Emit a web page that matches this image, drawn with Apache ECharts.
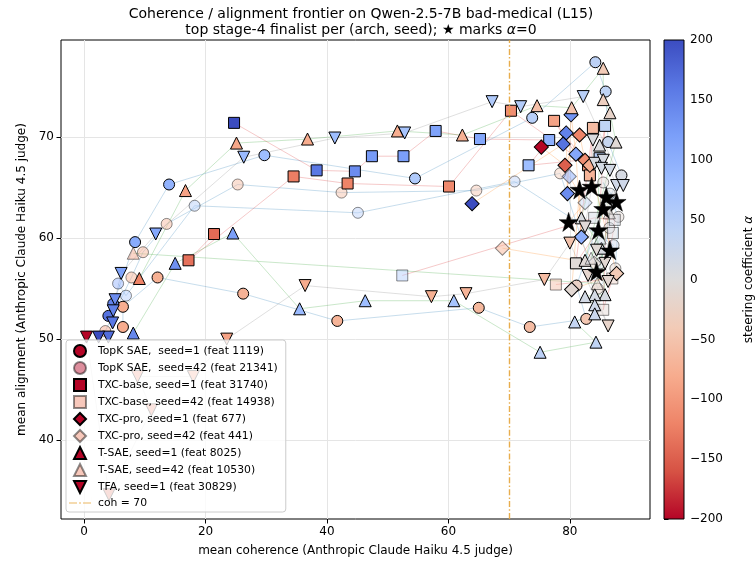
<!DOCTYPE html>
<html>
<head>
<meta charset="utf-8">
<script src="https://cdn.jsdelivr.net/npm/echarts@6/dist/echarts.min.js"></script>
<style>
  html, body { margin: 0; padding: 0; background: #fff; }
  #chart { width: 756px; height: 567px; }
</style>
</head>
<body>
<div id="chart"></div>
<script>
// Each point: [mean coherence, mean alignment, steering coefficient alpha]
const TOPK_S1 = [
  [6.4, 51.2, -80], [6.4, 53.2, -78], [12.1, 56.1, -75], [26.2, 54.5, -72], [41.7, 51.8, -70],
  [65.0, 53.1, -65], [73.4, 51.2, -60], [82.7, 52.0, -45], [81.1, 55.3, -25], [85.5, 62.9, 0],
  [88.5, 66.2, 10], [86.3, 69.5, 30], [85.9, 74.5, 40], [84.2, 77.4, 45], [73.8, 71.9, 50],
  [54.5, 65.9, 60], [29.7, 68.2, 80], [14.0, 65.3, 95], [8.4, 59.6, 105], [4.8, 53.5, 150],
  [4.0, 52.3, 165]
];
const TOPK_S42 = [
  [3.5, 50.8, -90], [7.8, 56.1, -80], [9.7, 58.6, -75], [13.6, 61.4, -70], [25.3, 65.3, -65],
  [42.4, 64.5, -60], [64.6, 64.7, -50], [78.4, 66.4, -40], [84.6, 55.0, -20], [87.5, 57.0, -15],
  [88.0, 62.1, -10], [85.5, 65.5, -5], [87.7, 63.6, 0], [86.6, 64.4, 5], [86.5, 61.0, 10],
  [85.0, 57.5, 15], [87.2, 59.3, 20], [70.9, 65.6, 45], [45.1, 62.5, 50], [18.2, 63.2, 55],
  [6.9, 54.3, 60], [5.6, 55.5, 100]
];
const TXCB_S1 = [
  [17.2, 57.8, -135], [21.4, 60.4, -140], [34.5, 66.1, -125], [43.4, 65.4, -120], [60.1, 65.1, -115],
  [70.3, 72.6, -110], [83.0, 67.2, -105], [77.4, 71.6, -90], [83.3, 66.2, -70], [83.8, 70.9, -60],
  [81.0, 57.5, -5], [84.7, 60.8, 0], [85.8, 71.1, 40], [84.9, 67.9, 50], [73.2, 67.2, 80],
  [76.6, 69.7, 100], [65.2, 69.8, 110], [57.9, 70.6, 115], [52.6, 68.1, 120], [47.4, 68.1, 125],
  [44.6, 66.6, 140], [38.3, 66.7, 160], [24.7, 71.4, 200]
];
const TXCB_S42 = [
  [77.7, 55.4, -60], [87.0, 56.0, -25], [85.5, 52.9, -10], [86.0, 63.0, -5], [86.6, 58.8, 0],
  [87.1, 60.5, 5], [87.4, 61.8, 10], [84.0, 62.0, 15], [52.4, 56.3, 60]
];
const TXCP_S1 = [
  [75.3, 69.0, -200], [79.2, 67.2, -150], [81.6, 70.2, -120], [82.5, 67.7, -110], [83.3, 67.2, -80],
  [87.7, 56.5, -40], [80.3, 54.9, -10], [81.6, 64.8, 0], [81.9, 60.1, 100], [81.0, 68.3, 110],
  [80.2, 72.2, 130], [79.6, 64.4, 140], [79.4, 70.4, 150], [78.9, 69.3, 165], [63.9, 63.4, 200]
];
const TXCP_S42 = [
  [68.9, 59.0, -80], [84.0, 57.5, -20], [79.8, 61.6, 0], [82.5, 63.5, 40], [79.9, 66.1, 120]
];
const TSAE_S1 = [
  [9.1, 56.0, -120], [16.7, 64.7, -90], [25.1, 69.4, -85], [36.8, 69.8, -80], [51.6, 70.6, -78],
  [62.3, 70.2, -75], [74.6, 73.1, -55], [80.3, 72.9, -50], [85.5, 76.8, -40], [85.5, 73.7, -30],
  [86.6, 72.4, -20], [87.6, 69.5, -8], [82.5, 57.8, -5], [84.4, 56.7, 0], [84.9, 69.2, 3],
  [81.9, 62.0, 5], [85.2, 59.0, 8], [85.8, 54.4, 10], [84.1, 54.4, 12], [82.5, 54.2, 15],
  [84.1, 53.4, 20], [84.1, 52.5, 25], [80.8, 51.7, 35], [84.3, 49.7, 40], [75.1, 48.7, 45],
  [60.9, 53.8, 70], [46.3, 53.8, 80], [35.5, 53.0, 85], [24.5, 60.5, 120], [15.0, 57.5, 135],
  [8.1, 50.6, 145]
];
const TSAE_S42 = [
  [8.1, 58.5, -90], [84.5, 55.5, -20], [86.5, 62.5, -10], [86.0, 64.1, 0], [83.5, 58.0, 10],
  [85.0, 60.0, 20]
];
const TFA_S1 = [
  [0.4, 50.2, -200], [4.1, 34.6, -150], [11.1, 43.0, -130], [8.8, 46.3, -120], [18.0, 46.3, -100],
  [23.5, 50.0, -90], [36.4, 55.3, -80], [57.2, 54.2, -75], [62.9, 54.5, -70], [75.8, 55.9, -60],
  [80.0, 59.5, -50], [86.3, 51.3, -20], [83.0, 56.3, -15], [86.3, 55.7, -12], [85.8, 57.5, -10],
  [84.4, 58.8, -8], [82.5, 61.1, -5], [83.6, 65.1, 0], [83.8, 69.7, 5], [84.1, 67.4, 8],
  [85.5, 67.7, 10], [85.2, 66.9, 12], [86.6, 66.7, 15], [87.7, 65.2, 18], [88.8, 65.2, 20],
  [82.2, 74.0, 50], [71.9, 73.0, 55], [67.2, 73.5, 60], [52.8, 70.4, 70], [41.3, 69.9, 80],
  [26.3, 68.0, 85], [11.8, 60.4, 110], [6.1, 56.5, 115], [5.1, 53.9, 140], [4.8, 52.8, 150],
  [4.7, 51.6, 160], [4.0, 50.2, 170], [2.4, 50.2, 200]
];

const COH_THRESHOLD = 70;
const X_TICKS = [0, 20, 40, 60, 80];
const Y_TICKS = [40, 50, 60, 70];

const FONT = 'DejaVu Sans';
// coolwarm, reversed: alpha -200 (red) ... +200 (blue)
const COOLWARM_R = ['#b40426', '#d65244', '#ee8468', '#f7ac8e', '#f2cbb7', '#dddcdc',
                    '#c0d4f5', '#9ebeff', '#7b9ff9', '#5a78e4', '#3b4cc0'];
const STAR = 'path://M0,-10L2.245,-3.09L9.511,-3.09L3.633,1.18L5.878,8.09L0,3.82L-5.878,8.09L-3.633,1.18L-9.511,-3.09L-2.245,-3.09Z';

const MARKERS = {
  circle:  { symbol: 'circle',   size: 11, rotate: 0,   icon: 'circle' },
  square:  { symbol: 'rect',     size: 11, rotate: 0,   icon: 'path://M-1,-1H1V1H-1Z' },
  diamond: { symbol: 'rect',     size: 10, rotate: 45,  icon: 'path://M0,-1L1,0L0,1L-1,0Z' },
  triUp:   { symbol: 'triangle', size: 12, rotate: 0,   icon: 'path://M0,-1L1,1L-1,1Z' },
  triDown: { symbol: 'triangle', size: 12, rotate: 180, icon: 'path://M-1,-1L1,-1L0,1Z' }
};
const ARCH_LINE = { topk: '#1f77b4', txcb: '#d62728', txcp: '#ff7f0e', tsae: '#2ca02c', tfa: '#7f7f7f' };
const COH_COLOR = '#e5a43a';

const GROUPS = [
  { name: 'TopK SAE,  seed=1 (feat 1119)',   pts: TOPK_S1,  marker: 'circle',  arch: 'topk', faded: false, swatch: '#b40426' },
  { name: 'TopK SAE,  seed=42 (feat 21341)', pts: TOPK_S42, marker: 'circle',  arch: 'topk', faded: true,  swatch: '#b40426' },
  { name: 'TXC-base, seed=1 (feat 31740)',   pts: TXCB_S1,  marker: 'square',  arch: 'txcb', faded: false, swatch: '#b40426' },
  { name: 'TXC-base, seed=42 (feat 14938)',  pts: TXCB_S42, marker: 'square',  arch: 'txcb', faded: true,  swatch: '#ee8468' },
  { name: 'TXC-pro, seed=1 (feat 677)',      pts: TXCP_S1,  marker: 'diamond', arch: 'txcp', faded: false, swatch: '#b40426' },
  { name: 'TXC-pro, seed=42 (feat 441)',     pts: TXCP_S42, marker: 'diamond', arch: 'txcp', faded: true,  swatch: '#ee8468' },
  { name: 'T-SAE, seed=1 (feat 8025)',       pts: TSAE_S1,  marker: 'triUp',   arch: 'tsae', faded: false, swatch: '#b40426' },
  { name: 'T-SAE, seed=42 (feat 10530)',     pts: TSAE_S42, marker: 'triUp',   arch: 'tsae', faded: true,  swatch: '#ee8468' },
  { name: 'TFA, seed=1 (feat 30829)',        pts: TFA_S1,   marker: 'triDown', arch: 'tfa',  faded: false, swatch: '#b40426' }
];

const series = [];
const scatterIdx = [];

// faint trajectories, in alpha order
GROUPS.forEach(g => {
  const sorted = g.pts.slice().sort((a, b) => a[2] - b[2]);
  series.push({
    type: 'line', xAxisIndex: 0, yAxisIndex: 0, z: 1, silent: true,
    data: sorted.map(p => [p[0], p[1]]),
    showSymbol: false, symbol: 'none',
    lineStyle: { color: ARCH_LINE[g.arch], width: 1, opacity: 0.25 }
  });
});

// markers coloured by alpha
GROUPS.forEach(g => {
  const m = MARKERS[g.marker];
  scatterIdx.push(series.length);
  series.push({
    type: 'scatter', name: g.name, xAxisIndex: 0, yAxisIndex: 0, z: 2,
    data: g.pts.filter(p => p[2] !== 0),
    symbol: m.symbol, symbolSize: m.size, symbolRotate: m.rotate,
    itemStyle: {
      color: g.swatch, borderColor: '#000', borderWidth: 1,
      opacity: g.faded ? 0.45 : 1
    },
    emphasis: { disabled: true }
  });
});

// alpha = 0 points as stars
series.push({
  type: 'scatter', xAxisIndex: 0, yAxisIndex: 0, z: 3, silent: true,
  data: GROUPS.flatMap(g => g.pts.filter(p => p[2] === 0)),
  symbol: STAR, symbolSize: 19,
  itemStyle: { color: '#000', borderColor: '#000', borderWidth: 0.5, opacity: 1 }
});

// coherence threshold
series.push({
  type: 'scatter', name: 'coh = 70', xAxisIndex: 0, yAxisIndex: 0, z: 1,
  data: [],
  itemStyle: { color: COH_COLOR },
  markLine: {
    silent: true, symbol: ['none', 'none'], animation: false,
    label: { show: false },
    lineStyle: { color: COH_COLOR, type: [6, 2.2, 1.5, 2.2], width: 1.4, opacity: 0.9 },
    data: [{ xAxis: COH_THRESHOLD }]
  }
});

// colour bar
series.push({
  type: 'custom', xAxisIndex: 1, yAxisIndex: 1, silent: true,
  data: [[0, 0]],
  renderItem: (params) => {
    const cs = params.coordSys;
    return {
      type: 'rect',
      shape: { x: cs.x, y: cs.y, width: cs.width, height: cs.height },
      style: {
        fill: new echarts.graphic.LinearGradient(0, 1, 0, 0,
          COOLWARM_R.map((c, i) => ({ offset: i / (COOLWARM_R.length - 1), color: c }))),
        stroke: '#000', lineWidth: 1
      }
    };
  }
});

const minusFmt = v => (v < 0 ? '\u2212' + Math.abs(v) : String(v));
const tickText = { color: '#000', fontSize: 12, fontFamily: FONT };

const legendData = GROUPS.map(g => ({ name: g.name, icon: MARKERS[g.marker].icon }))
  .concat([{ name: 'coh = 70', icon: 'path://M0,5.4h8v1.2h-8z M10,5.4h2v1.2h-2z M14,5.4h8v1.2h-8z M0,0h0.01v12h-0.01z M22,0h0.01v12h-0.01z' }]);

const option = {
  animation: false,
  backgroundColor: '#fff',
  title: {
    left: 356, top: 1, textAlign: 'center',
    text: 'Coherence / alignment frontier on Qwen-2.5-7B bad-medical (L15)\ntop stage-4 finalist per (arch, seed); \u2605 marks {i|\u03b1}=0',
    textStyle: {
      fontSize: 14, fontWeight: 'normal', color: '#000', fontFamily: FONT, lineHeight: 16,
      rich: { i: { fontSize: 14, fontStyle: 'italic', fontFamily: FONT, color: '#000' } }
    }
  },
  grid: [
    { left: 61, right: 106, top: 40, bottom: 48, show: true, borderColor: '#000', borderWidth: 1, backgroundColor: 'transparent' },
    { left: 664, right: 72, top: 40, bottom: 48 }
  ],
  xAxis: [
    {
      type: 'value', gridIndex: 0, min: -3.8, max: 93.2,
      name: 'mean coherence (Anthropic Claude Haiku 4.5 judge)',
      nameLocation: 'middle', nameGap: 26,
      nameTextStyle: { color: '#000', fontSize: 12, fontFamily: FONT },
      axisLine: { show: false, onZero: false },
      axisTick: { show: true, length: 4.5, lineStyle: { color: '#000' }, customValues: X_TICKS },
      axisLabel: Object.assign({ margin: 7, customValues: X_TICKS }, tickText),
      splitLine: { show: true, lineStyle: { color: '#e5e5e5', width: 1 } }
    },
    { type: 'value', gridIndex: 1, min: 0, max: 1, show: false }
  ],
  yAxis: [
    {
      type: 'value', gridIndex: 0, min: 32.2, max: 79.6,
      name: 'mean alignment (Anthropic Claude Haiku 4.5 judge)',
      nameLocation: 'middle', nameGap: 33, nameRotate: 90,
      nameTextStyle: { color: '#000', fontSize: 12, fontFamily: FONT },
      axisLine: { show: false, onZero: false },
      axisTick: { show: true, length: 4.5, lineStyle: { color: '#000' }, customValues: Y_TICKS },
      axisLabel: Object.assign({ margin: 7, customValues: Y_TICKS }, tickText),
      splitLine: { show: true, lineStyle: { color: '#e5e5e5', width: 1 } }
    },
    {
      type: 'value', gridIndex: 1, min: -200, max: 200, interval: 50, position: 'right',
      name: 'steering coefficient {i|\u03b1}',
      nameLocation: 'middle', nameGap: 59, nameRotate: 90,
      nameTextStyle: {
        color: '#000', fontSize: 12, fontFamily: FONT,
        rich: { i: { fontSize: 12, fontStyle: 'italic', fontFamily: FONT, color: '#000' } }
      },
      axisLine: { show: false },
      axisTick: { show: true, length: 4.5, lineStyle: { color: '#000' } },
      axisLabel: Object.assign({ margin: 6, formatter: minusFmt }, tickText),
      splitLine: { show: false }
    }
  ],
  visualMap: {
    type: 'continuous', show: false, min: -200, max: 200, dimension: 2,
    seriesIndex: scatterIdx,
    inRange: { color: COOLWARM_R }
  },
  legend: {
    orient: 'vertical', left: 66, top: 340,
    padding: [4, 8, 3, 3], itemGap: 3, itemWidth: 26, itemHeight: 12,
    symbolKeepAspect: true,
    backgroundColor: 'rgba(255,255,255,0.8)', borderColor: '#cccccc', borderWidth: 1, borderRadius: 3,
    selectedMode: false,
    textStyle: { color: '#000', fontSize: 10.8, fontFamily: FONT, lineHeight: 12 },
    data: legendData
  },
  series: series
};

const chart = echarts.init(document.getElementById('chart'), null, { renderer: 'canvas' });
chart.setOption(option);
</script>
</body>
</html>
